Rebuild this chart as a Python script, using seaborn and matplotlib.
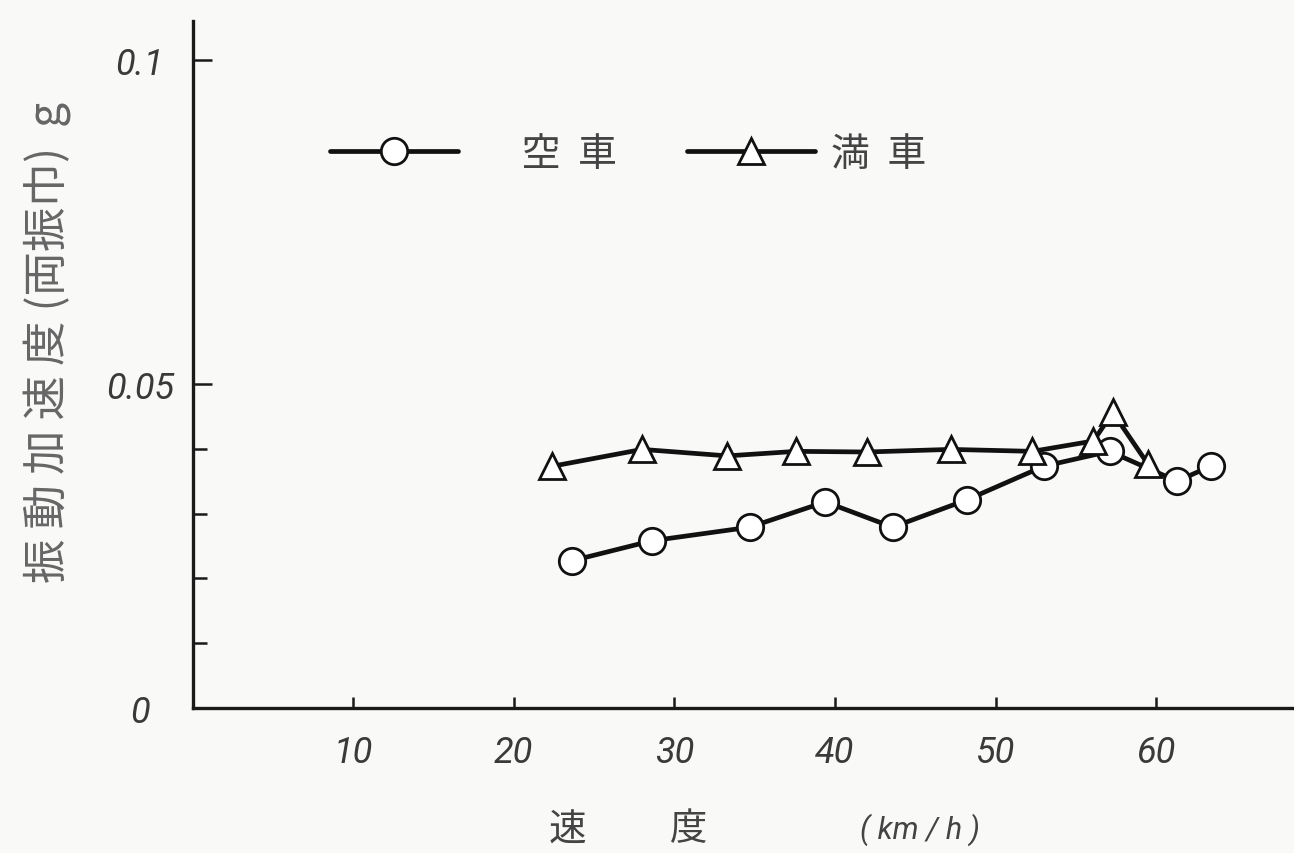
import matplotlib
matplotlib.use("Agg")
import matplotlib.pyplot as plt
import seaborn as sns
import pandas as pd
from matplotlib.ticker import FixedLocator

# ---- data ----
empty_speed = [23.6, 28.6, 34.7, 39.4, 43.6, 48.2, 53.0, 57.1, 61.3, 63.4]
empty_accel = [0.0227, 0.0258, 0.0279, 0.0318, 0.0279, 0.0321, 0.0373, 0.0396, 0.0350, 0.0373]
full_speed = [22.4, 28.0, 33.3, 37.6, 42.0, 47.2, 52.3, 56.1, 57.3, 59.5]
full_accel = [0.0373, 0.0399, 0.0389, 0.0396, 0.0395, 0.0399, 0.0396, 0.0412, 0.0456, 0.0376]
series_names = ["空車", "満車"]
legend_labels = ["\u3000 空  車", "満  車"]
x_ticks = [10, 20, 30, 40, 50, 60]
y_major = [0, 0.05, 0.1]
y_major_labels = ["0", "0.05", "0.1"]
y_minor = [0.01, 0.02, 0.03, 0.04]
y_label = "振 動 加 速 度 (両振巾)  g"
x_label = "速　　 度"
x_unit = "( km / h )"

df = pd.DataFrame({
    "speed": empty_speed + full_speed,
    "accel": empty_accel + full_accel,
    "kind": [series_names[0]] * len(empty_speed) + [series_names[1]] * len(full_speed),
})

sns.set_style("ticks")
plt.rcParams["font.family"] = ["Noto Sans CJK JP", "DejaVu Sans"]

bg = "#f9f9f8"
fig = plt.figure(figsize=(12.94, 8.54), dpi=100, facecolor=bg)
W, H = 1294, 854
ax = fig.add_axes([192.5 / W, (H - 709) / H, 1 - 192.5 / W, (709 - 22) / H])
ax.set_facecolor(bg)

sns.lineplot(
    data=df, x="speed", y="accel", hue="kind", style="kind",
    palette={series_names[0]: "#111111", series_names[1]: "#111111"},
    markers={series_names[0]: "o", series_names[1]: "^"},
    dashes=False, sort=False, estimator=None, ax=ax,
    linewidth=3.4, markersize=19, markerfacecolor="white",
    markeredgecolor="#111111", markeredgewidth=2.0, legend=False,
)

ax.set_xlim(0, (W - 192.5) / 16.06)
ax.set_ylim(0, 0.106)

for s in ["top", "right"]:
    ax.spines[s].set_visible(False)
for s in ["left", "bottom"]:
    ax.spines[s].set_linewidth(2.4)
    ax.spines[s].set_color("#1a1a1a")

num_font = dict(family=["Roboto", "DejaVu Sans"], style="italic", weight="normal",
                color="#3a3a3a", fontsize=26)

ax.set_xticks(x_ticks)
ax.set_xticklabels([str(t) for t in x_ticks], **num_font)
ax.set_yticks(y_major)
ax.set_yticklabels(y_major_labels, ha="center", **num_font)
ax.yaxis.set_minor_locator(FixedLocator(y_minor))
ax.tick_params(axis="x", direction="in", length=8, width=1.8, color="#1a1a1a", pad=19)
ax.tick_params(axis="y", which="major", direction="in", length=14, width=1.8,
               color="#1a1a1a", pad=38)
ax.tick_params(axis="y", which="minor", direction="in", length=10, width=1.8,
               color="#1a1a1a")
ax.yaxis.get_major_ticks()[0].tick1line.set_visible(False)

ax.set_xlabel("")
ax.set_ylabel("")
ax.text((47 - 192.5) / 1101.5, (709 - 342) / 687, y_label, rotation=90,
        transform=ax.transAxes, ha="center", va="center", fontsize=32,
        color="#666666", family=["Noto Sans CJK JP", "DejaVu Sans"])
fig.text(628 / W, 1 - 830 / H, x_label, ha="center", va="center", fontsize=27,
         color="#444444", family=["Noto Sans CJK JP", "DejaVu Sans"])
fig.text(920 / W, 1 - 830 / H, x_unit, ha="center", va="center", fontsize=22,
         color="#444444", style="italic", weight="normal",
         family=["Roboto", "DejaVu Sans"])

handles = ax.get_lines()[:2]
leg = ax.legend(handles, legend_labels, loc="center left",
                bbox_to_anchor=((330 - 192.5) / 1101.5, (709 - 155) / 687),
                ncol=2, frameon=False, fontsize=28, handlelength=3.3,
                handletextpad=0.4, columnspacing=1.8, borderaxespad=0,
                borderpad=0)
for t in leg.get_texts():
    t.set_color("#444444")

fig.savefig("out.png", dpi=100, facecolor=bg)
